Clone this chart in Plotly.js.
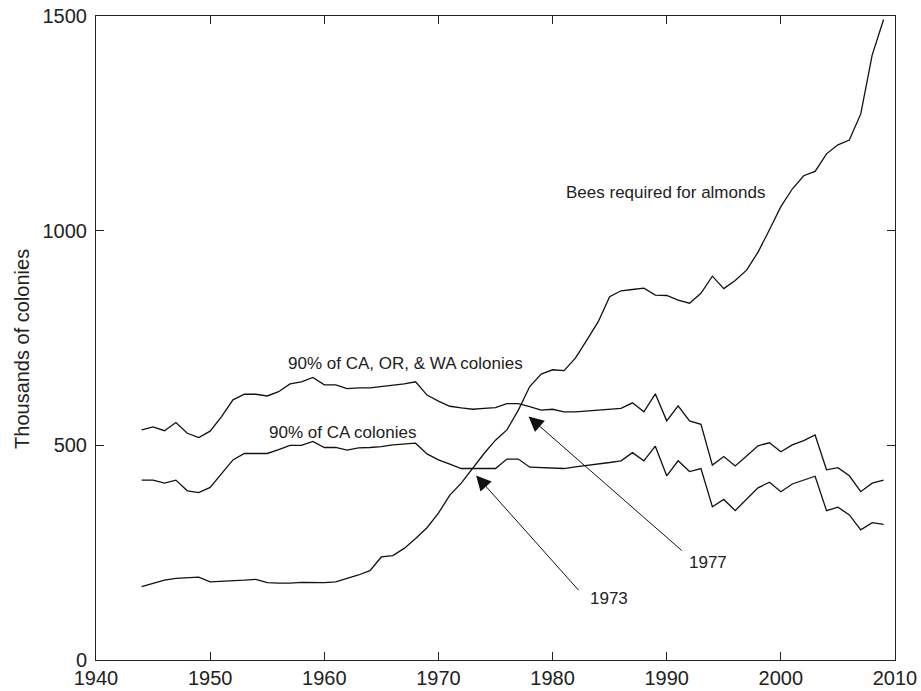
<!DOCTYPE html>
<html>
<head>
<meta charset="utf-8">
<script src="https://cdn.plot.ly/plotly-3.0.1.min.js"></script>
<style>html,body{margin:0;padding:0;background:#fff;}#chart{width:921px;height:691px;}</style>
</head>
<body>
<div id="chart"></div>
<script>
const years = [1944,1945,1946,1947,1948,1949,1950,1951,1952,1953,
  1954,1955,1956,1957,1958,1959,1960,1961,1962,1963,
  1964,1965,1966,1967,1968,1969,1970,1971,1972,1973,
  1974,1975,1976,1977,1978,1979,1980,1981,1982,1983,
  1984,1985,1986,1987,1988,1989,1990,1991,1992,1993,
  1994,1995,1996,1997,1998,1999,2000,2001,2002,2003,
  2004,2005,2006,2007,2008,2009];

const beesRequired = [171,179,186,190,192,193,182,183,184,186,
  188,180,179,179,181,180,180,182,190,198,
  208,240,243,260,283,308,342,384,412,447,
  481,512,536,582,637,666,676,674,703,745,
  788,846,860,863,866,850,849,838,831,854,
  894,865,884,908,950,1002,1056,1097,1128,1138,
  1179,1200,1211,1272,1409,1492];

const caOrWa90 = [536,543,534,553,528,518,533,567,606,619,
  619,615,625,643,648,658,641,641,632,634,
  634,637,640,643,648,617,603,591,587,584,
  586,588,597,597,590,582,584,578,578,580,
  582,584,586,599,578,620,557,592,557,549,
  454,474,452,475,499,506,485,501,511,524,
  443,448,429,392,412,419];

const ca90 = [419,419,412,419,394,390,402,435,466,481,
  481,481,490,500,500,509,495,495,489,494,
  495,497,501,503,505,480,466,456,446,446,
  446,446,468,468,449,448,447,446,450,453,
  457,460,464,483,464,498,429,464,439,446,
  357,374,348,374,401,414,392,410,419,428,
  348,356,338,303,320,316];

const xTicks = [1940,1950,1960,1970,1980,1990,2000,2010];
const yTicks = [0,500,1000,1500];
const yTitle = 'Thousands of colonies';

const lineStyle = {color:'#111', width:1.3};
const traces = [
  {x: years, y: beesRequired, type:'scatter', mode:'lines', line: lineStyle, hoverinfo:'skip'},
  {x: years, y: caOrWa90, type:'scatter', mode:'lines', line: lineStyle, hoverinfo:'skip'},
  {x: years, y: ca90, type:'scatter', mode:'lines', line: lineStyle, hoverinfo:'skip'}
];

const fam = 'Liberation Sans, Arial, sans-serif';
const txtFont = {family:fam, size:17, color:'#222'};
const annotations = [
  {x:1989.9, y:1090, xref:'x', yref:'y', text:'Bees required for almonds', showarrow:false, font:txtFont},
  {x:1967.1, y:690, xref:'x', yref:'y', text:'90% of CA, OR, &amp; WA colonies', showarrow:false, font:txtFont},
  {x:1961.6, y:531, xref:'x', yref:'y', text:'90% of CA colonies', showarrow:false, font:txtFont},
  {x:1973.3, y:430, xref:'x', yref:'y', axref:'x', ayref:'y', ax:1982.4, ay:159, text:'', showarrow:true,
    arrowhead:2, arrowsize:3, arrowwidth:1, arrowcolor:'#111', standoff:0},
  {x:1977.9, y:567, xref:'x', yref:'y', axref:'x', ayref:'y', ax:1991.45, ay:252, text:'', showarrow:true,
    arrowhead:2, arrowsize:3, arrowwidth:1, arrowcolor:'#111', standoff:0},
  {x:1984.9, y:144, xref:'x', yref:'y', text:'1973', showarrow:false, font:txtFont},
  {x:1993.6, y:226, xref:'x', yref:'y', text:'1977', showarrow:false, font:txtFont},
  {x:-0.0926, y:0.483, xref:'paper', yref:'paper', text:yTitle, textangle:-90, showarrow:false,
    xanchor:'center', yanchor:'middle', font:{family:fam, size:20, color:'#222'}}
];

const axisCommon = {
  showline:true, linecolor:'#222', linewidth:1, mirror:'ticks',
  ticks:'inside', ticklen:8, tickcolor:'#222', tickwidth:1,
  showgrid:false, zeroline:false,
  tickfont:{family:fam, size:20, color:'#222'}
};

const layout = {
  width:921, height:691,
  margin:{l:96, r:26, t:16, b:31, pad:0},
  paper_bgcolor:'#fff', plot_bgcolor:'#fff',
  showlegend:false,
  xaxis: Object.assign({}, axisCommon, {range:[1940,2010], tickmode:'array', tickvals:xTicks, ticktext:xTicks.map(String)}),
  yaxis: Object.assign({}, axisCommon, {range:[0,1500], tickmode:'array', tickvals:yTicks, ticktext:yTicks.map(String),
    ticklabelstandoff:4}),
  annotations: annotations
};

Plotly.newPlot('chart', traces, layout, {staticPlot:true, displayModeBar:false});
</script>
</body>
</html>
